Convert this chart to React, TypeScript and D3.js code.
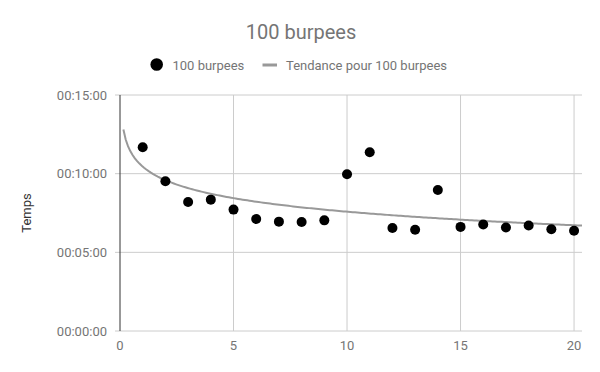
import React from "react";
import * as d3 from "d3";

const title = "100 burpees";
const seriesName = "100 burpees";
const trendName = "Tendance pour 100 burpees";
const yAxisTitle = "Temps";
const sessions = [1, 2, 3, 4, 5, 6, 7, 8, 9, 10, 11, 12, 13, 14, 15, 16, 17, 18, 19, 20];
const times = [
  "00:11:41", "00:09:31", "00:08:12", "00:08:21", "00:07:43",
  "00:07:07", "00:06:57", "00:06:56", "00:07:02", "00:09:58",
  "00:11:22", "00:06:33", "00:06:26", "00:08:58", "00:06:37",
  "00:06:46", "00:06:35", "00:06:42", "00:06:28", "00:06:22",
];
const xTicks = [0, 5, 10, 15, 20];
const yTickLabels = ["00:00:00", "00:05:00", "00:10:00", "00:15:00"];

const toSec = (s: string) => {
  const [h, m, sec] = s.split(":").map(Number);
  return h * 3600 + m * 60 + sec;
};

const W = 600;
const H = 372;
const FONT = "Roboto, 'Noto Sans', sans-serif";

export default function App() {
  const values = times.map(toSec);
  const yTicks = yTickLabels.map(toSec);

  const x = d3.scaleLinear().domain([0, 20.35]).range([120, 582]);
  const y = d3.scaleLinear().domain([0, 900]).range([331, 95]);

  // logarithmic trendline (least squares on ln x)
  const lx = sessions.map((s) => Math.log(s));
  const mx = d3.mean(lx) as number;
  const my = d3.mean(values) as number;
  let sxy = 0, sxx = 0;
  lx.forEach((l, i) => {
    sxy += (l - mx) * (values[i] - my);
    sxx += (l - mx) * (l - mx);
  });
  const a = sxy / sxx;
  const b = my - a * mx;
  const trendXs = d3.range(0, 201).map((i) => 0.15 + (i / 200) * (20.35 - 0.15));
  const line = d3
    .line<number>()
    .x((d) => x(d))
    .y((d) => y(a * Math.log(d) + b))
    .curve(d3.curveLinear);

  const grid = "#cccccc";
  const label = "#757575";

  return (
    <svg width={W} height={H} style={{ position: "absolute", left: 0, top: 0, fontFamily: FONT }}>
      <rect width={W} height={H} fill="#fff" />
      <text x={301} y={38.5} textAnchor="middle" fontSize={20} fill={label}>
        {title}
      </text>

      {/* legend */}
      <circle cx={156.7} cy={64.5} r={6.3} fill="#000" />
      <text x={172.5} y={69.5} fontSize={13} fill={label}>
        {seriesName}
      </text>
      <line x1={262.5} x2={277} y1={65} y2={65} stroke="#999" strokeWidth={3} />
      <text x={286} y={69.5} fontSize={13} fill={label}>
        {trendName}
      </text>

      {/* gridlines */}
      {yTicks.map((t) => (
        <line key={"h" + t} x1={115} x2={582} y1={y(t)} y2={y(t)} stroke={grid} strokeWidth={1} />
      ))}
      {xTicks.filter((t) => t !== 0).map((t) => (
        <line key={"v" + t} x1={x(t)} x2={x(t)} y1={95} y2={331} stroke={grid} strokeWidth={1} />
      ))}
      <line x1={x(0)} x2={x(0)} y1={95} y2={331} stroke="#333" strokeWidth={1} />

      {/* y labels */}
      {yTicks.map((t, i) => (
        <text key={"yl" + t} x={107} y={y(t)} dy="0.35em" textAnchor="end" fontSize={13} fill={label}>
          {yTickLabels[i]}
        </text>
      ))}
      {/* x labels */}
      {xTicks.map((t) => (
        <text key={"xl" + t} x={x(t)} y={350} textAnchor="middle" fontSize={13} fill={label}>
          {t}
        </text>
      ))}

      <text
        transform={`translate(31,213) rotate(-90)`}
        textAnchor="middle"
        fontSize={13}
        fill="#333"
      >
        {yAxisTitle}
      </text>

      {/* trend */}
      <path d={line(trendXs) || ""} fill="none" stroke="#999" strokeWidth={2} />

      {/* points */}
      {sessions.map((s, i) => (
        <circle key={"p" + s} cx={x(s)} cy={y(values[i])} r={5} fill="#000" />
      ))}
    </svg>
  );
}
